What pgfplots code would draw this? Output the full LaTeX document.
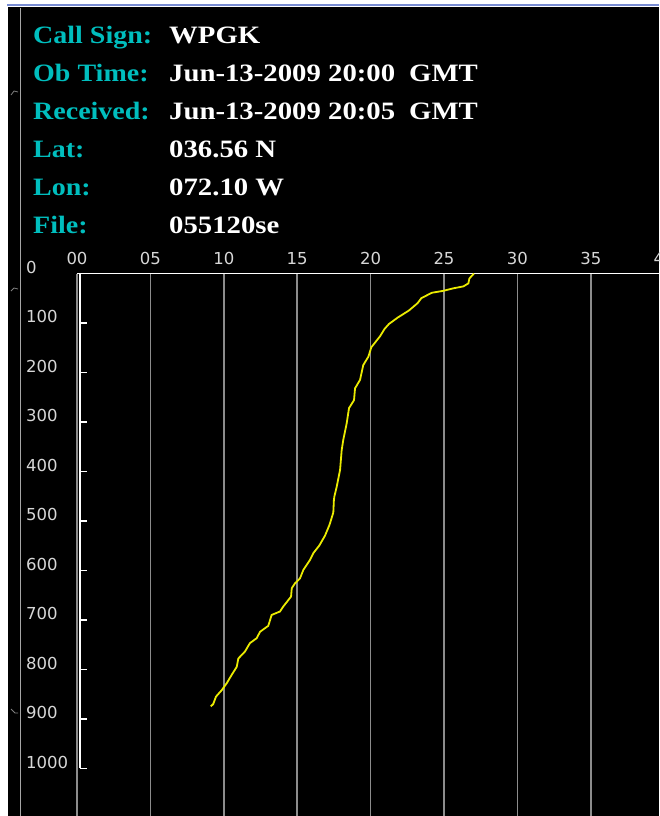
\documentclass[border=0pt]{standalone}
\usepackage{fontspec}
\setmainfont{Liberation Serif}
\newfontfamily\tickfont{DejaVu Sans}
\usepackage{graphicx}
\usepackage{pgfplots}
\pgfplotsset{compat=1.18}

\definecolor{hdrcyan}{RGB}{0,190,190}
\definecolor{gridgrey}{RGB}{140,140,140}
\definecolor{labgrey}{RGB}{215,215,215}
\definecolor{trace}{RGB}{235,235,0}
\definecolor{topblue}{RGB}{120,140,210}

% header text: bold serif, stretched a little like the screen font
\newcommand{\hdr}[1]{\scalebox{1.12}[1]{\fontsize{25}{25}\selectfont\bfseries #1}}
\newcommand{\hval}[1]{\scalebox{1.15}[1]{\fontsize{25}{25}\selectfont\bfseries #1}}

\begin{document}
\begin{tikzpicture}
\useasboundingbox (0,0) rectangle (659pt,-816pt);
\begin{scope}[x=1pt,y=-1pt]
  \fill[white] (0,0) rectangle (659,816);
  \fill[black] (8,7) rectangle (659,816);
  \draw[topblue, line width=2pt] (7,5.5) -- (659,5.5);
  \draw[gray!70, line width=1pt] (20,8) -- (20,816);
  \draw[gray, line width=0.8pt] (11,95) -- (14,91) -- (18,92);
  \draw[gray, line width=0.8pt] (11,291) -- (14,288) -- (18,289);
  \draw[gray, line width=0.8pt] (11,709) -- (15,713) -- (18,713);

  \node[anchor=base west, inner sep=0, text=hdrcyan] at (33,43.5) {\hdr{Call Sign:}};
  \node[anchor=base west, inner sep=0, text=hdrcyan] at (33,81.5) {\hdr{Ob Time:}};
  \node[anchor=base west, inner sep=0, text=hdrcyan] at (33,119.5) {\hdr{Received:}};
  \node[anchor=base west, inner sep=0, text=hdrcyan] at (33,157.5) {\hdr{Lat:}};
  \node[anchor=base west, inner sep=0, text=hdrcyan] at (33,195.5) {\hdr{Lon:}};
  \node[anchor=base west, inner sep=0, text=hdrcyan] at (33,233.5) {\hdr{File:}};

  \node[anchor=base west, inner sep=0, text=white] at (169,43.5) {\hval{WPGK}};
  \node[anchor=base west, inner sep=0, text=white] at (169,81.5) {\hval{Jun-13-2009 20:00}};
  \node[anchor=base west, inner sep=0, text=white] at (409,81.5) {\hval{GMT}};
  \node[anchor=base west, inner sep=0, text=white] at (169,119.5) {\hval{Jun-13-2009 20:05}};
  \node[anchor=base west, inner sep=0, text=white] at (409,119.5) {\hval{GMT}};
  \node[anchor=base west, inner sep=0, text=white] at (169,157.5) {\hval{036.56 N}};
  \node[anchor=base west, inner sep=0, text=white] at (169,195.5) {\hval{072.10 W}};
  \node[anchor=base west, inner sep=0, text=white] at (169,233.5) {\hval{055120se}};
\end{scope}

\begin{axis}[
    at={(77pt,-273.5pt)}, anchor=north west,
    scale only axis, width=587.2pt, height=544.3pt,
    xmin=0, xmax=40, ymin=0, ymax=1100, y dir=reverse,
    axis line style={draw=none},
    xtick={0,5,...,40}, xticklabels={00,05,10,15,20,25,30,35,40},
    xticklabel pos=right,
    ytick={0,100,...,1000},
    xmajorgrids, major grid style={gridgrey, line width=1.5pt},
    xtick style={draw=none},
    ytick style={white, line width=1.5pt, xshift=3pt},
    tick align=inside, major tick length=7pt, ytick pos=left,
    ticklabel style={font=\tickfont\fontsize{16.5}{16.5}\selectfont, text=labgrey, inner sep=0pt},
    xticklabel style={anchor=south, yshift=8.5pt},
    yticklabel style={anchor=west, xshift=-51pt, yshift=6pt},
    /pgf/number format/assume math mode=true,
    /pgf/number format/1000 sep={},
]
\draw[white, line width=1.5pt] (axis cs:0,0) -- (axis cs:40,0);
\draw[white, line width=1.5pt] ([xshift=3pt]axis cs:0,0) -- ([xshift=3pt]axis cs:0,1000);
\addplot[trace, line width=1.8pt] coordinates {
(27.04,0) (26.73,10) (26.66,20) (26.32,26) (25.63,30) (24.95,35) (24.16,39)
(23.45,50) (23.2,60) (22.6,75) (21.85,89) (21.25,102) (20.95,112) (20.64,127)
(20.05,149) (19.85,168) (19.5,185) (19.28,215) (18.94,232) (18.87,256)
(18.53,272) (18.37,303) (18.14,336) (18.03,357) (17.92,397) (17.69,431)
(17.53,451) (17.5,458) (17.46,483) (17.2,508) (16.89,530) (16.5,550)
(16.1,565) (15.87,579) (15.42,599) (15.19,616) (14.85,626) (14.63,636)
(14.58,653) (14.05,673) (13.83,683) (13.26,690) (13.03,712) (12.47,724)
(12.24,737) (11.78,747) (11.44,764) (10.99,778) (10.88,795) (10.54,811)
(10.2,828) (9.86,842) (9.47,855) (9.28,870) (9.11,875)
};
\end{axis}
\end{tikzpicture}
\end{document}
